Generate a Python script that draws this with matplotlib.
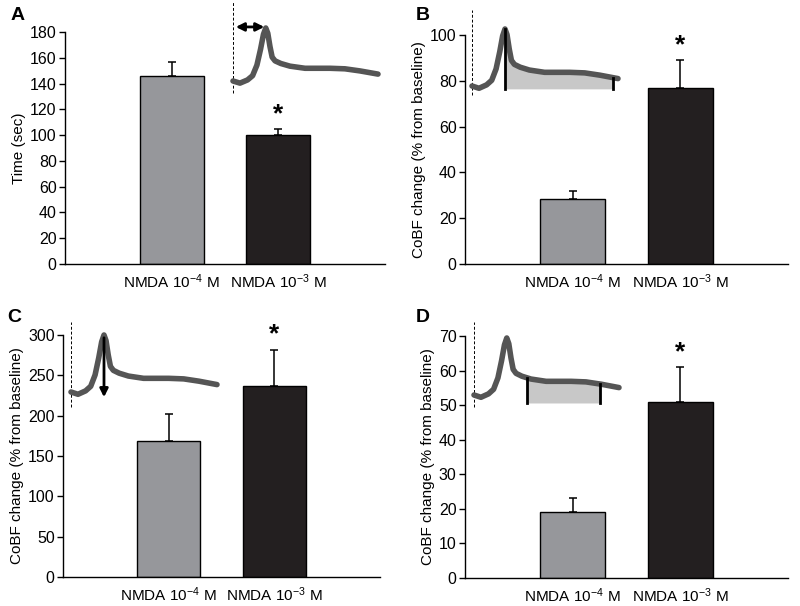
import numpy as np
import matplotlib
matplotlib.use("Agg")
import matplotlib.pyplot as plt

plt.rcParams['font.family'] = ['Liberation Sans', 'DejaVu Sans']
plt.rcParams['mathtext.fontset'] = 'custom'
plt.rcParams['mathtext.rm'] = 'Liberation Sans'
plt.rcParams['mathtext.it'] = 'Liberation Sans:italic'

# ---- data ----
groups = ['NMDA 10$^{-4}$ M', 'NMDA 10$^{-3}$ M']

time_vals = [146, 100]
time_err = [11, 5]

auc_vals = [28.5, 77]
auc_err = [3.5, 12]

peak_vals = [168, 237]
peak_err = [34, 45]

plateau_vals = [19, 51]
plateau_err = [4, 10]

# representative CoBF trace (normalised time, normalised amplitude)
trace_t = [0, 0.048, 0.1, 0.135, 0.165, 0.19, 0.21, 0.226, 0.24, 0.255, 0.27, 0.29,
           0.33, 0.393, 0.497, 0.669, 0.772, 0.876, 1.0]
trace_v = [0, -0.04, 0.02, 0.1, 0.3, 0.6, 0.88, 1.0, 0.9, 0.65, 0.45, 0.38,
           0.33, 0.28, 0.24, 0.24, 0.23, 0.19, 0.13]

W, H = 800, 606
fig = plt.figure(figsize=(W / 100, H / 100), dpi=100)

GRAY = '#96979b'
BLACK = '#231f20'


def px_axes(left, right, top, bottom):
    return fig.add_axes([left / W, 1 - bottom / H, (right - left) / W, (bottom - top) / H])


def bar_panel(box, vals, errs, ymax, step, ylabel, letter, letter_xy):
    ax = px_axes(*box)
    x = [1, 2]
    ax.bar(x, vals, width=0.6, color=[GRAY, BLACK], edgecolor='black', linewidth=1, zorder=2)
    ax.errorbar(x, vals, yerr=[[0, 0], errs], fmt='none', ecolor='black',
                elinewidth=1.1, capsize=3, capthick=1.1, zorder=1)
    ax.annotate('*', xy=(2, vals[1] + errs[1]), xytext=(0, 2), textcoords='offset points',
                ha='center', va='bottom', fontsize=19, fontweight='bold')
    ax.set_xlim(0, 3)
    ax.set_ylim(0, ymax)
    ax.set_yticks(np.arange(0, ymax + 1, step))
    ax.set_xticks(x)
    ax.set_xticklabels(groups, fontsize=11)
    ax.tick_params(axis='x', length=0, pad=6)
    ax.tick_params(axis='y', labelsize=11.5, length=4, width=1, direction='out', pad=2)
    for s in ['top', 'right']:
        ax.spines[s].set_visible(False)
    for s in ['left', 'bottom']:
        ax.spines[s].set_linewidth(1)
    ax.set_ylabel(ylabel, fontsize=11, labelpad=3)
    fig.text(letter_xy[0] / W, 1 - letter_xy[1] / H, letter, fontsize=14,
             fontweight='bold', ha='left', va='top')
    return ax


def trace_inset(x0, x1, ybase, ypeak, dash_top, dash_bot):
    w = x1 - x0
    h = ybase - ypeak
    tmin, tmax = -0.05, 1.05
    vmin, vmax = -0.6, 1.6
    ax = px_axes(x0 + tmin * w, x0 + tmax * w, ybase - vmax * h, ybase - vmin * h)
    ax.set_xlim(tmin, tmax)
    ax.set_ylim(vmin, vmax)
    ax.axis('off')
    ax.plot([0, 0], [dash_bot, dash_top], color='black', lw=0.7, ls=(0, (3, 2)))
    ax.plot(trace_t, trace_v, color='#555555', lw=4, solid_capstyle='round',
            solid_joinstyle='round', zorder=3)
    return ax


axA = bar_panel((65, 385, 32, 264), time_vals, time_err, 180, 20, 'Time (sec)', 'A', (11, 7))
axB = bar_panel((465, 788, 35, 264), auc_vals, auc_err, 100, 20,
                'CoBF change (% from baseline)', 'B', (416, 7))
axC = bar_panel((63, 380, 335, 577), peak_vals, peak_err, 300, 50,
                'CoBF change (% from baseline)', 'C', (7, 309))
axD = bar_panel((465, 788, 336, 578), plateau_vals, plateau_err, 70, 10,
                'CoBF change (% from baseline)', 'D', (416, 309))

t = np.array(trace_t)
v = np.array(trace_v)

# A: latency to peak
ia = trace_inset(233, 378, 81, 28, 1.49, -0.23)
ia.annotate('', xy=(0.0, 1.02), xytext=(0.235, 1.02),
            arrowprops=dict(arrowstyle='<|-|>', color='black', lw=2, mutation_scale=12))

# B: area under curve
ib = trace_inset(472, 618, 86, 29, 1.33, -0.16)
mb = (t >= 0.226) & (t <= 0.966)
tb = np.concatenate([[0.226], t[mb], [0.966]])
vb = np.interp(tb, t, v)
ib.fill_between(tb, -0.05, vb, color='#c8c8c8', lw=0, zorder=1)
ib.plot([0.226, 0.226], [-0.05, 1.0], color='black', lw=2, zorder=4)
ib.plot([0.966, 0.966], [-0.05, np.interp(0.966, t, v)], color='black', lw=2, zorder=4)

# C: peak amplitude
ic = trace_inset(71, 217, 392, 335, 1.23, -0.26)
ic.annotate('', xy=(0.226, -0.14), xytext=(0.226, 1.0),
            arrowprops=dict(arrowstyle='-|>', color='black', lw=2, mutation_scale=12), zorder=5)

# D: plateau
idd = trace_inset(474, 619, 395, 338, 1.28, -0.21)
md = (t >= 0.366) & (t <= 0.87)
td = np.concatenate([[0.366], t[md], [0.87]])
vd = np.interp(td, t, v)
idd.fill_between(td, -0.14, vd, color='#c8c8c8', lw=0, zorder=1)
idd.plot([0.366, 0.366], [-0.14, np.interp(0.366, t, v)], color='black', lw=2, zorder=4)
idd.plot([0.87, 0.87], [-0.14, np.interp(0.87, t, v)], color='black', lw=2, zorder=4)

fig.savefig('out.png', dpi=100)
